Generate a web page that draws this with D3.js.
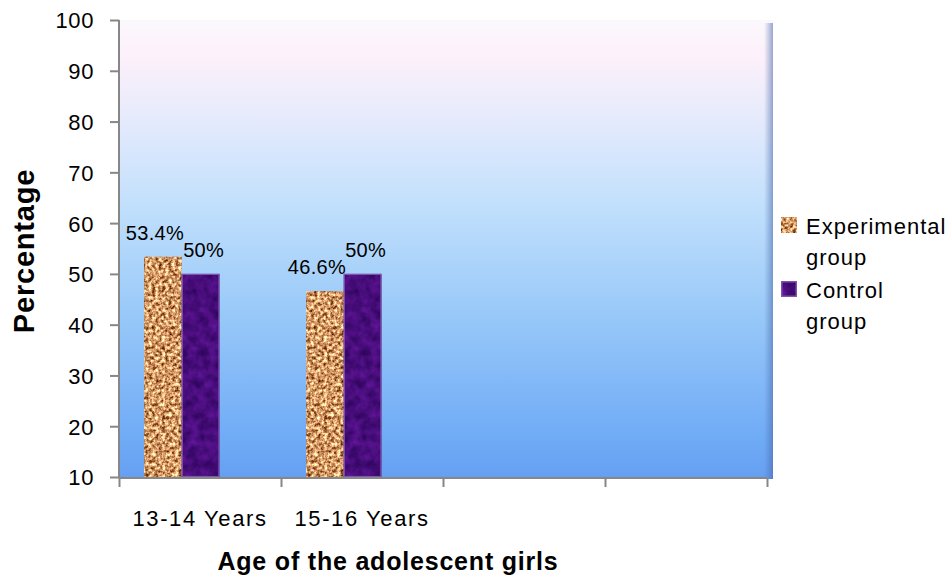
<!DOCTYPE html>
<html>
<head>
<meta charset="utf-8">
<script src="https://cdn.jsdelivr.net/npm/d3@7"></script>
<style>
  html, body { margin: 0; padding: 0; background: #fff; }
  svg { display: block; }
  text { font-family: "Liberation Sans", Arial, sans-serif; fill: #000; }
</style>
</head>
<body>
<script>
// Age groups (two used slots out of four on the category axis)
const categories = ["13-14 Years", "15-16 Years"];
const slotCount = 4;
const series = ["Experimental group", "Control group"];
const experimental = [53.4, 46.6];
const control = [50, 50];
const valueLabels = [["53.4%", "46.6%"], ["50%", "50%"]];
const yTicks = [10, 20, 30, 40, 50, 60, 70, 80, 90, 100];

const W = 951, H = 580;
const plot = { left: 119, right: 767, top: 20, bottom: 477 };

const svg = d3.select("body").append("svg").attr("width", W).attr("height", H);
const defs = svg.append("defs");

// Plot-area background gradient: pale pink at top fading to sky blue
const bg = defs.append("linearGradient").attr("id", "bgGrad")
  .attr("x1", 0).attr("y1", 0).attr("x2", 0).attr("y2", 1);
[[0, "#fbf8fd"], [0.08, "#fdf0fa"], [0.2, "#e8ebfc"], [0.4, "#c2e0fc"],
 [0.62, "#9ccbf9"], [0.9, "#71acf6"], [1, "#659ff2"]]
  .forEach(([o, c]) => bg.append("stop").attr("offset", o).attr("stop-color", c));

const edge = defs.append("linearGradient").attr("id", "edgeGrad")
  .attr("x1", 0).attr("y1", 0).attr("x2", 1).attr("y2", 0);
[[0, "rgba(80,110,170,0)"], [1, "rgba(70,100,170,0.55)"]]
  .forEach(([o, c]) => edge.append("stop").attr("offset", o).attr("stop-color", c));

// Noise-based fill textures for the bars
function textureFilter(id, freq, seed, matrix) {
  const f = defs.append("filter").attr("id", id)
    .attr("x", 0).attr("y", 0).attr("width", 1).attr("height", 1)
    .attr("color-interpolation-filters", "sRGB");
  f.append("feTurbulence").attr("type", "fractalNoise")
    .attr("baseFrequency", freq).attr("numOctaves", 3).attr("seed", seed).attr("result", "n");
  f.append("feColorMatrix").attr("in", "n").attr("type", "matrix")
    .attr("values", matrix).attr("result", "c");
  f.append("feComposite").attr("in", "c").attr("in2", "SourceGraphic").attr("operator", "in");
}
// tan granite
textureFilter("texExp", 0.3, 4,
  "1.5 0 0 0 0.08  1.6 0 0 0 -0.2  1.4 0 0 0 -0.3  0 0 0 0 1");
// dark purple, lightly mottled
textureFilter("texCtl", 0.1, 9,
  "0.3 0 0 0 0.13  0.1 0 0 0 0.0  0.35 0 0 0 0.305  0 0 0 0 1");

// Scales
const x0 = d3.scaleBand().domain(d3.range(slotCount)).range([plot.left, plot.right])
  .paddingInner(0).paddingOuter(0);
const bw = x0.bandwidth();
const x1 = d3.scaleBand().domain(series).range([bw * 0.155, bw * 0.62]);
const y = d3.scaleLinear().domain([10, 100]).range([plot.bottom, plot.top]);

// Background
svg.append("rect").attr("x", plot.left).attr("y", plot.top)
  .attr("width", plot.right - plot.left + 6).attr("height", plot.bottom - plot.top + 2)
  .attr("fill", "url(#bgGrad)");
svg.append("rect").attr("x", plot.right - 3).attr("y", plot.top + 3)
  .attr("width", 9).attr("height", plot.bottom - plot.top - 1)
  .attr("fill", "url(#edgeGrad)");

// Bars
const data = categories.map((c, i) => ({ i, vals: [experimental[i], control[i]] }));
const groups = svg.append("g").selectAll("g").data(data).join("g")
  .attr("transform", d => `translate(${x0(d.i)},0)`);

groups.selectAll("rect.exp").data(d => [d.vals[0]]).join("rect").attr("class", "exp")
  .attr("x", x1(series[0])).attr("width", x1.bandwidth())
  .attr("y", v => y(v)).attr("height", v => y(10) - y(v))
  .attr("fill", "#c89060").attr("filter", "url(#texExp)");

groups.selectAll("rect.ctl").data(d => [d.vals[1]]).join("rect").attr("class", "ctl")
  .attr("x", x1(series[1])).attr("width", x1.bandwidth())
  .attr("y", v => y(v)).attr("height", v => y(10) - y(v))
  .attr("fill", "#4a0c80").attr("filter", "url(#texCtl)");
groups.selectAll("rect.ctlb").data(d => [d.vals[1]]).join("rect").attr("class", "ctlb")
  .attr("x", x1(series[1]) + 0.5).attr("width", x1.bandwidth() - 1)
  .attr("y", v => y(v) + 0.5).attr("height", v => y(10) - y(v) - 1)
  .attr("fill", "none").attr("stroke", "#7c55ac").attr("stroke-width", 1.2);

// Value labels
groups.append("text").attr("text-anchor", "middle").style("font-size", "20px")
  .style("letter-spacing", "0.3px")
  .attr("x", x1(series[0]) + x1.bandwidth() / 2 - 8)
  .attr("y", d => y(d.vals[0]) - 17)
  .text(d => valueLabels[0][d.i]);
groups.append("text").attr("text-anchor", "middle").style("font-size", "20px")
  .style("letter-spacing", "0.3px")
  .attr("x", x1(series[1]) + x1.bandwidth() / 2 + 3)
  .attr("y", d => y(d.vals[1]) - 17)
  .text(d => valueLabels[1][d.i]);

// Axes
const yAxis = svg.append("g").attr("transform", `translate(${plot.left},0)`)
  .call(d3.axisLeft(y).tickValues(yTicks).tickSize(9).tickPadding(16).tickFormat(d3.format("d")));
yAxis.select(".domain").attr("stroke", "#878787").attr("stroke-width", 2)
  .attr("d", `M0,${plot.bottom + 1}V${plot.top}`);
yAxis.selectAll(".tick line").attr("stroke", "#878787").attr("stroke-width", 2);
yAxis.selectAll(".tick text").style("font-size", "22px").attr("dy", "0.36em")
  .style("letter-spacing", "0.6px").style("fill", "#000")
  .style("font-family", "Liberation Sans, Arial, sans-serif");

const xTicksScale = d3.scaleLinear().domain([0, slotCount]).range([plot.left, plot.right]);
const xAxis = svg.append("g").attr("transform", `translate(0,${plot.bottom + 1})`)
  .call(d3.axisBottom(xTicksScale).tickValues(d3.range(slotCount + 1)).tickSize(9).tickFormat(""));
xAxis.select(".domain").attr("stroke", "#878787").attr("stroke-width", 2)
  .attr("d", `M${plot.left},0H${plot.right}`);
xAxis.selectAll(".tick line").attr("stroke", "#878787").attr("stroke-width", 2);

// Category labels
svg.append("g").selectAll("text").data(categories).join("text")
  .attr("x", (d, i) => x0(i) + bw / 2).attr("y", 526)
  .attr("text-anchor", "middle").style("font-size", "22px").style("letter-spacing", "1.6px")
  .text(d => d);

// Axis titles
svg.append("text").attr("x", 388).attr("y", 570).attr("text-anchor", "middle")
  .style("font-size", "25px").style("font-weight", "bold").style("letter-spacing", "0.8px")
  .text("Age of the adolescent girls");
svg.append("text").attr("transform", "translate(34,251) rotate(-90)")
  .attr("text-anchor", "middle").style("font-size", "29px").style("font-weight", "bold")
  .style("letter-spacing", "0.8px")
  .text("Percentage");

// Legend
const legendRows = [
  { fill: "#c89060", filter: "url(#texExp)", lines: ["Experimental", "group"], y: 217 },
  { fill: "#4a0c80", filter: "url(#texCtl)", lines: ["Control", "group"], y: 281 }
];
const lg = svg.append("g").selectAll("g").data(legendRows).join("g");
lg.append("rect").attr("x", 781).attr("y", d => d.y).attr("width", 16).attr("height", 16)
  .attr("fill", d => d.fill).attr("filter", d => d.filter);
lg.filter((d, i) => i === 1).append("rect").attr("x", 781.75).attr("y", d => d.y + 0.75)
  .attr("width", 14.5).attr("height", 14.5).attr("fill", "none")
  .attr("stroke", "#7c55ac").attr("stroke-width", 1.5);
lg.selectAll("text").data(d => d.lines.map((t, k) => ({ t, y: d.y + 17 + k * 31 }))).join("text")
  .attr("x", 806).attr("y", d => d.y).style("font-size", "22px").style("letter-spacing", "1px")
  .text(d => d.t);
</script>
</body>
</html>
